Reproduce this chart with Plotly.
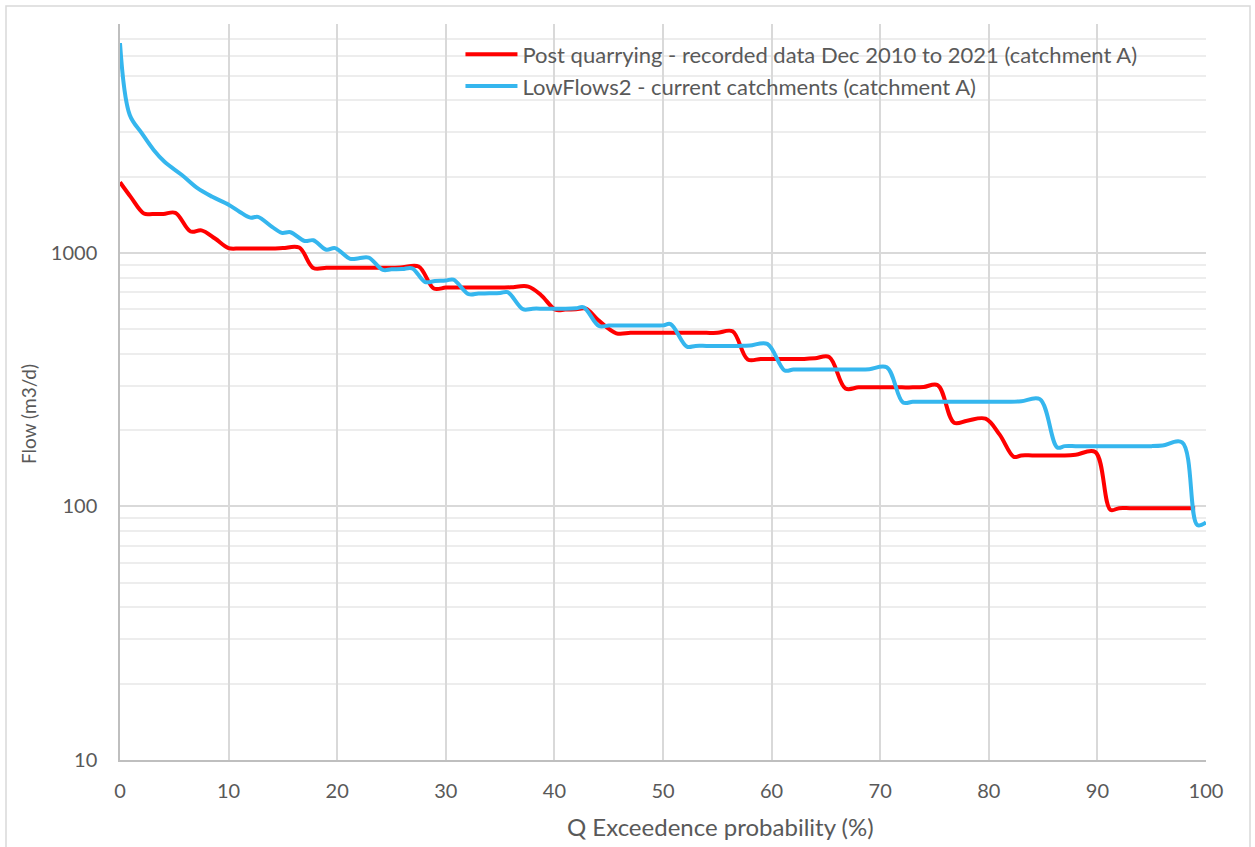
import plotly.graph_objects as go

# ---- data ----
red_name = "Post quarrying - recorded data Dec 2010 to 2021 (catchment A)"
red_x = [0, 1, 2.2, 3, 4, 5.1, 6.5, 7.5, 8.75, 10, 11, 12, 13, 14, 15, 16.5, 17.8,
         19, 20, 21, 22, 23, 24, 25, 26, 27.5, 28.9, 30, 31, 32, 33, 34, 35, 36, 37.6,
         38.8, 40.1, 41, 42, 42.9, 44, 45.7, 47, 48, 49, 50, 51, 52, 53, 54, 55, 56.4,
         57.8, 59, 60, 61, 62, 63, 64, 65.3, 66.8, 68, 69, 70, 71, 72, 73, 74, 75.3,
         76.8, 78, 79.7, 81, 82.3, 83, 84, 85, 86, 87, 88, 89.8, 91.2, 92, 93, 94, 95,
         96, 97, 98, 99]
red_y = [1900, 1660, 1430, 1425, 1425, 1440, 1215, 1228, 1140, 1045, 1042, 1042, 1042,
         1042, 1045, 1050, 873, 875, 875, 875, 875, 875, 875, 875, 878, 884, 724, 730,
         730, 730, 730, 730, 730, 732, 737, 680, 597, 598, 600, 603, 545, 482, 484, 484,
         484, 484, 484, 484, 484, 484, 484, 491, 380, 382, 382, 382, 382, 382, 384, 389,
         292, 295, 295, 295, 295, 295, 295, 296, 301, 214, 218, 222, 192, 157, 159, 159,
         159, 159, 159, 160, 164, 97, 98.5, 98.5, 98.5, 98.5, 98.5, 98.5, 98.5, 98.5]

blue_name = "LowFlows2 - current catchments (catchment A)"
blue_x = [0, 0.9, 2, 3.1, 4.1, 5.7, 7.1, 8.5, 10, 11, 12, 12.7, 14, 14.9, 15.7, 17, 17.8,
          19, 19.8, 21.2, 22, 22.9, 24.2, 25, 26, 26.9, 28.1, 29, 30, 30.7, 32.1, 33, 34,
          35, 35.7, 37.1, 38, 39, 40, 41, 42, 42.7, 44.1, 45, 46, 47, 48, 49, 50, 50.7,
          52.2, 53, 54, 55, 56, 57, 58, 59.6, 61.2, 62, 63, 64, 65, 66, 67, 68, 69, 70.6,
          72.1, 73, 74, 75, 76, 77, 78, 79, 80, 81, 82, 83, 84.7, 86.3, 87, 88, 89, 90,
          91, 92, 93, 94, 95, 96, 97.8, 99.2, 100]
blue_y = [6730, 3500, 2970, 2550, 2290, 2030, 1805, 1665, 1550, 1455, 1378, 1388, 1268,
          1200, 1207, 1115, 1122, 1030, 1045, 948, 953, 958, 858, 862, 864, 870, 768, 775,
          778, 785, 688, 692, 693, 695, 700, 600, 603, 603, 603, 603, 605, 610, 515, 517,
          517, 517, 517, 517, 518, 524, 427, 430, 430, 430, 430, 430, 431, 438, 344, 347,
          347, 347, 347, 347, 347, 347, 348, 354, 257, 259, 259, 259, 259, 259, 259, 259,
          259, 259, 259, 260, 265, 171, 173, 173, 173, 173, 173, 173, 173, 173, 173, 174,
          179, 84.5, 86.5]

x_ticks = [0, 10, 20, 30, 40, 50, 60, 70, 80, 90, 100]
y_ticks = [10, 100, 1000]
x_title = "Q Exceedence probability (%)"
y_title = "Flow (m3/d)"

FONT = "Lato, 'Open Sans', sans-serif"
TXT = "#595959"

fig = go.Figure()
fig.add_trace(go.Scatter(x=red_x, y=red_y, mode="lines", name=red_name,
                         line=dict(color="#FF0000", width=4, shape="spline", smoothing=1)))
fig.add_trace(go.Scatter(x=blue_x, y=blue_y, mode="lines", name=blue_name,
                         line=dict(color="#35B6EE", width=4, shape="spline", smoothing=1)))

minor_vals = []
for dec in (10, 100, 1000):
    for m in range(2, 10):
        v = m * dec
        if v <= 8000:
            minor_vals.append(v)

fig.update_layout(
    width=1255, height=847,
    margin=dict(l=120, r=49, t=24, b=87),
    paper_bgcolor="white", plot_bgcolor="white",
    font=dict(family=FONT, color=TXT, size=20),
    showlegend=True,
    legend=dict(x=0.3135, y=0.987, xanchor="left", yanchor="top",
                bgcolor="rgba(0,0,0,0)", font=dict(size=22, color=TXT),
                itemwidth=52, tracegroupgap=0),
    xaxis=dict(range=[0, 100], tickvals=x_ticks, ticktext=[str(v) for v in x_ticks],
               showgrid=True, gridcolor="#d9d9d9", gridwidth=1.5,
               showline=True, linecolor="#bfbfbf", linewidth=1.5,
               zeroline=False, ticks="", ticklabelstandoff=12,
               tickfont=dict(size=20, color=TXT)),
    yaxis=dict(type="log", range=[1, 3.90309], tickvals=y_ticks,
               ticktext=[str(v) for v in y_ticks],
               showgrid=True, gridcolor="#d9d9d9", gridwidth=1.5,
               showline=True, linecolor="#bfbfbf", linewidth=1.5,
               zeroline=False, ticks="", ticklabelstandoff=17,
               tickfont=dict(size=20, color=TXT),
               minor=dict(tickmode="array", tickvals=minor_vals, showgrid=True,
                          gridcolor="#ededed", gridwidth=1.5, ticks="")),
    annotations=[
        dict(text=x_title, xref="paper", yref="paper",
             x=(720 - 120) / 1086, y=(760 - 826) / 736, xanchor="center", yanchor="middle",
             showarrow=False, font=dict(size=24, color=TXT)),
        dict(text=y_title, xref="paper", yref="paper", textangle=-90,
             x=(28 - 120) / 1086, y=(760 - 414) / 736, xanchor="center", yanchor="middle",
             showarrow=False, font=dict(size=19, color=TXT)),
    ],
    shapes=[dict(type="rect", xref="paper", yref="paper",
                 x0=(6 - 120) / 1086, x1=(1250 - 120) / 1086,
                 y0=(760 - 860) / 736, y1=(760 - 6) / 736,
                 line=dict(color="#d9d9d9", width=1.5), fillcolor="rgba(0,0,0,0)",
                 layer="below")],
)

fig.write_html("out.html")
